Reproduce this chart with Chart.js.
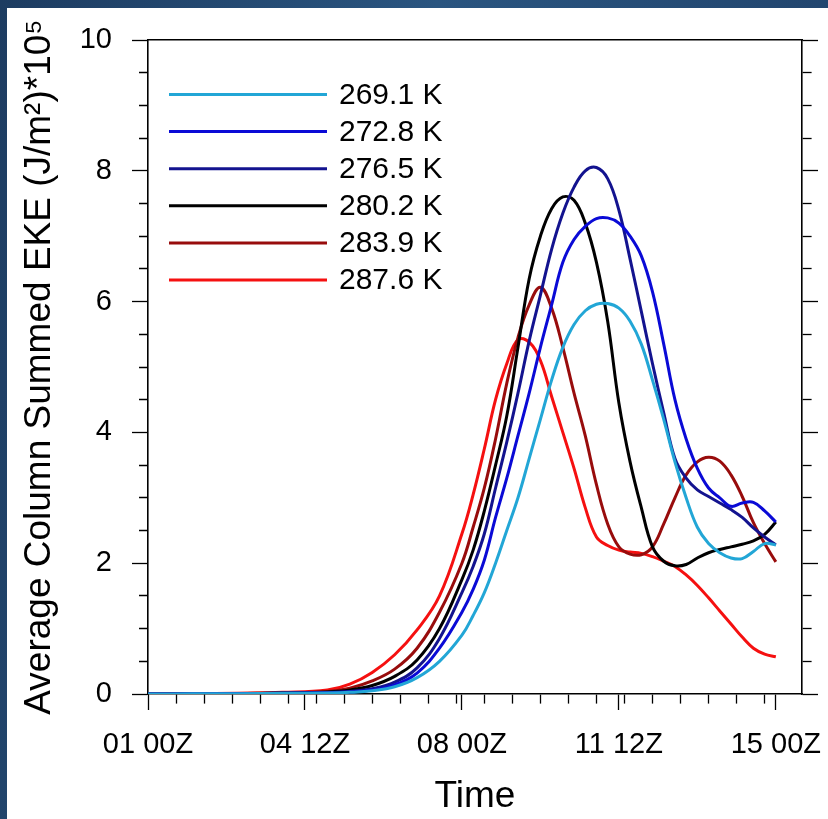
<!DOCTYPE html>
<html><head><meta charset="utf-8">
<script src="https://cdn.jsdelivr.net/npm/chart.js@4/dist/chart.umd.min.js"></script>
<style>
html,body{margin:0;padding:0;width:828px;height:819px;overflow:hidden;}
body{background:linear-gradient(100deg,#1d3c61 0%,#2a5580 45%,#1f4068 100%);position:relative;}
#paper{position:absolute;left:7px;top:8px;right:0;bottom:0;background:#fff;}
#c{position:absolute;left:0;top:0;}
</style></head><body><div id="paper"></div><canvas id="c" width="828" height="819"></canvas>
<script>
// ---- data (hours since 01 00Z) ----
const hours = [0,24,48,72,96,108,120,132,144,156,168,174,180,186,192,198,204,210,216,222,228,234,240,246,252,258,264,270,276,282,288,294,300,306,312,318,324,330,336];
const seriesLabels = ['269.1 K','272.8 K','276.5 K','280.2 K','283.9 K','287.6 K'];
const k269 = [0,0.002,0.005,0.01,0.015,0.025,0.05,0.11,0.25,0.5,0.9,1.2,1.55,2.0,2.5,3.0,3.6,4.2,4.8,5.3,5.65,5.86,5.96,5.97,5.9,5.7,5.35,4.8,4.2,3.55,3.0,2.55,2.3,2.16,2.08,2.07,2.18,2.3,2.28];
const k272 = [0,0.002,0.006,0.012,0.02,0.03,0.06,0.14,0.32,0.7,1.25,1.6,2.05,2.7,3.3,3.95,4.6,5.3,5.95,6.6,6.95,7.15,7.27,7.28,7.2,7.0,6.7,6.15,5.35,4.5,3.9,3.45,3.15,3.0,2.87,2.92,2.93,2.8,2.63];
const k276 = [0,0.002,0.006,0.012,0.022,0.04,0.08,0.18,0.4,0.85,1.55,1.95,2.45,3.15,3.85,4.6,5.4,6.1,6.8,7.35,7.75,8.0,8.05,7.88,7.4,6.65,5.85,5.05,4.3,3.6,3.3,3.12,3.02,2.92,2.82,2.7,2.54,2.4,2.28];
const k280 = [0,0.002,0.006,0.014,0.03,0.06,0.13,0.27,0.52,1.0,1.75,2.2,2.8,3.5,4.25,5.3,6.35,7.0,7.42,7.6,7.55,7.2,6.6,5.7,4.45,3.55,2.85,2.25,2.03,1.96,1.98,2.08,2.16,2.21,2.25,2.29,2.34,2.44,2.63];
const k283 = [0,0.003,0.008,0.018,0.04,0.09,0.2,0.38,0.7,1.25,2.0,2.55,3.15,3.9,4.75,5.45,5.95,6.22,5.9,5.3,4.6,3.95,3.2,2.6,2.25,2.14,2.13,2.25,2.6,3.0,3.35,3.55,3.62,3.56,3.35,3.02,2.62,2.3,2.02];
const k287 = [0,0.005,0.012,0.025,0.06,0.15,0.33,0.6,0.98,1.5,2.45,3.05,3.75,4.5,5.05,5.42,5.38,5.1,4.55,4.0,3.45,2.85,2.4,2.27,2.2,2.17,2.15,2.1,2.03,1.95,1.82,1.66,1.47,1.27,1.07,0.87,0.7,0.61,0.57];
const xTickHours = [0,84,168,252,336];
const xTickLabels = ['01 00Z','04 12Z','08 00Z','11 12Z','15 00Z'];
const xMinorStep = 15;
const xMinorLast = 336;
const yMajorStep = 2;
const yMinorStep = 0.5;

const seriesValues = [k269,k272,k276,k280,k283,k287];
const seriesColors = ['#22a6d6','#0a0ad6','#13138f','#000000','#980c0c','#f51010'];
const FONT = "'Liberation Sans', Arial, Helvetica, sans-serif";

const datasets = seriesLabels.map((lab,i)=>({
  label: lab,
  data: hours.map((h,j)=>({x:h, y:seriesValues[i][j]})),
  borderColor: seriesColors[i],
  backgroundColor: seriesColors[i],
  borderWidth: 3,
  pointRadius: 0,
  tension: 0.4,
  fill: false
}));

function buildX(scale){
  const v = new Set(xTickHours);
  for (let h=0; h<=xMinorLast; h+=xMinorStep) v.add(h);
  scale.ticks = [...v].sort((a,b)=>a-b).map(value=>({value}));
}
function buildY(scale){
  const t=[];
  for (let v=scale.min; v<=scale.max+1e-9; v+=yMinorStep) t.push({value:v});
  scale.ticks=t;
}
const isYMajor = v => Math.abs(v/yMajorStep - Math.round(v/yMajorStep))<1e-9;

const legendPlugin = {
  id:'inlineLegend',
  afterDatasetsDraw(chart){
    const {ctx, chartArea} = chart;
    ctx.save();
    chart.data.datasets.forEach((ds,i)=>{
      const y = chartArea.top + 54.5 + i*37.1;
      ctx.strokeStyle = ds.borderColor; ctx.lineWidth = 3;
      ctx.beginPath(); ctx.moveTo(chartArea.left+21, y); ctx.lineTo(chartArea.left+179, y); ctx.stroke();
      ctx.fillStyle = '#000'; ctx.font = '30px ' + FONT; ctx.textBaseline = 'middle'; ctx.textAlign='left';
      ctx.fillText(ds.label, chartArea.left+191, y+1);
    });
    ctx.restore();
  }
};

new Chart(document.getElementById('c'), {
  type:'line',
  data:{datasets},
  plugins:[legendPlugin],
  options:{
    responsive:false, animation:false, devicePixelRatio:1,
    layout:{padding:0},
    plugins:{legend:{display:false}, tooltip:{enabled:false}},
    scales:{
      x:{type:'linear', position:'bottom', min:0, max:350,
        afterBuildTicks: buildX,
        afterFit: s=>{ s.height = 125; s.paddingLeft = 0; s.paddingRight = 0; },
        grid:{drawOnChartArea:false, drawTicks:true, tickLength:16, tickColor:'#000', tickWidth:1.3,
          tickBorderDash: c => (c.tick && xTickHours.includes(c.tick.value)) ? [] : [9,60]},
        border:{display:true, color:'#000', width:1.6},
        ticks:{autoSkip:false, maxRotation:0, padding:18, color:'#000', font:{family:FONT, size:29},
          callback: v => { const i = xTickHours.indexOf(v); return i>=0 ? xTickLabels[i] : ''; }},
        title:{display:true, text:'Time', color:'#000', font:{family:FONT, size:37}, padding:{top:0,bottom:0}}
      },
      x2:{type:'linear', position:'top', min:0, max:350,
        afterFit: s=>{ s.height = 40; s.paddingLeft = 0; s.paddingRight = 0; },
        grid:{drawOnChartArea:false, drawTicks:false},
        border:{display:true, color:'#000', width:1.6},
        ticks:{display:false}
      },
      y:{type:'linear', position:'left', min:0, max:10,
        afterBuildTicks: buildY,
        afterFit: s=>{ s.width = 148; s.paddingTop = 0; s.paddingBottom = 0; },
        grid:{drawOnChartArea:false, drawTicks:true, tickLength:16, tickColor:'#000', tickWidth:1.3,
          tickBorderDash: c => (c.tick && isYMajor(c.tick.value)) ? [] : [0,7,9,60]},
        border:{display:true, color:'#000', width:1.6},
        ticks:{autoSkip:false, padding:20, color:'#000', font:{family:FONT, size:29},
          callback: v => isYMajor(v) ? String(Math.round(v)) : ''},
        title:{display:true, text:'Average Column Summed EKE (J/m²)*10⁵', color:'#000', font:{family:FONT, size:37}, padding:{top:18,bottom:0}}
      },
      y2:{type:'linear', position:'right', min:0, max:10,
        afterBuildTicks: buildY,
        afterFit: s=>{ s.width = 26; s.paddingTop = 0; s.paddingBottom = 0; },
        grid:{drawOnChartArea:false, drawTicks:true, tickLength:16, tickColor:'#000', tickWidth:1.3,
          tickBorderDash: c => (c.tick && isYMajor(c.tick.value)) ? [] : [9,60]},
        border:{display:true, color:'#000', width:1.6},
        ticks:{display:false}
      }
    }
  }
});
</script></body></html>
